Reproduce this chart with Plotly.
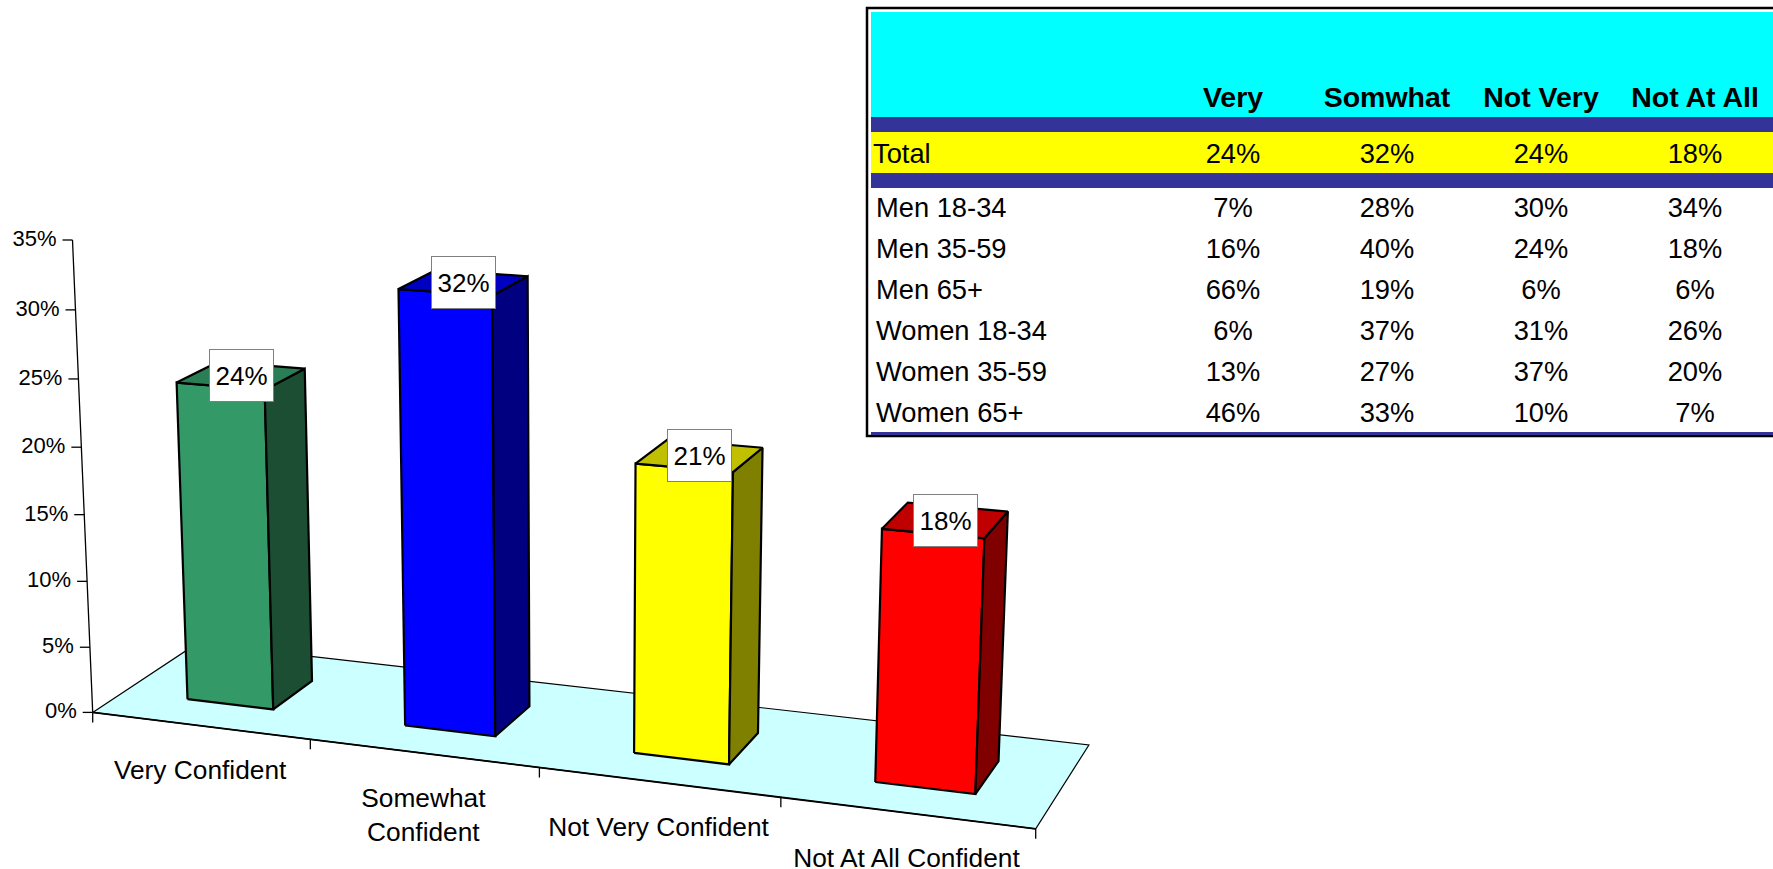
import numpy as np
import plotly.graph_objects as go

# Bar chart data
categories = ["Very Confident", "Somewhat<br>Confident", "Not Very Confident", "Not At All Confident"]
values = [24, 32, 21, 18]
value_labels = ["24%", "32%", "21%", "18%"]
value_ticks = [0, 5, 10, 15, 20, 25, 30, 35]
tick_labels = ["0%", "5%", "10%", "15%", "20%", "25%", "30%", "35%"]

# Crosstab data
table_headers = ["Very", "Somwhat", "Not Very", "Not At All"]
total_label = "Total"
total_row = ["24%", "32%", "24%", "18%"]
row_labels = ["Men 18-34", "Men 35-59", "Men 65+", "Women 18-34", "Women 35-59", "Women 65+"]
very_col = ["7%", "16%", "66%", "6%", "13%", "46%"]
somewhat_col = ["28%", "40%", "19%", "37%", "27%", "33%"]
not_very_col = ["30%", "24%", "6%", "31%", "37%", "10%"]
not_at_all_col = ["34%", "18%", "6%", "26%", "20%", "7%"]

# Face colours: front, top, side
front_colors = ["#339966", "#0000FF", "#FFFF00", "#FF0000"]
top_colors = ["#2A7D54", "#0000C0", "#C0C000", "#C00000"]
side_colors = ["#1C4E34", "#000080", "#808000", "#800000"]

FONT = "Liberation Sans, Arial, sans-serif"
W, H = 1773, 869

# Perspective camera: floor corners in page space for (category, depth) = (0,0),(4,0),(4,1),(0,1)
FLOOR_SRC = [(0, 0), (4, 0), (4, 1), (0, 1)]
FLOOR_DST = [(92.7, 712.4), (1035.7, 828.8), (1088.9, 745.0), (197.0, 643.4)]
AXIS_TOP = (72.5, 240.0)
VANISH_X = 577.0


def floor_homography(src, dst):
    a, b = [], []
    for (u, v), (x, y) in zip(src, dst):
        a.append([u, v, 1, 0, 0, 0, -u * x, -v * x])
        a.append([0, 0, 0, u, v, 1, -u * y, -v * y])
        b += [x, y]
    return np.append(np.linalg.solve(np.array(a, float), np.array(b, float)), 1).reshape(3, 3)


HOM = floor_homography(FLOOR_SRC, FLOOR_DST)
fx, fy = FLOOR_DST[0]
vanish_y = fy + (VANISH_X - fx) * (fy - AXIS_TOP[1]) / (fx - AXIS_TOP[0])
t_top = (AXIS_TOP[1] - fy) / (vanish_y - fy)
rise = (t_top / (1 - t_top) / value_ticks[-1]) * np.array([VANISH_X, vanish_y, 1.0])


def project(u, v, w=0.0):
    p = HOM @ np.array([u, v, 1.0]) + w * rise
    return p[0] / p[2], p[1] / p[2]


def path(points):
    xs, ys = zip(*[project(*p) for p in points])
    return list(xs), list(ys)


fig = go.Figure()


def polygon(points, fill, line_color="black", line_width=2.2):
    xs, ys = path(points + points[:1])
    fig.add_trace(go.Scatter(x=xs, y=ys, mode="lines", fill="toself", fillcolor=fill,
                             line=dict(color=line_color, width=line_width, shape="linear"),
                             hoverinfo="skip", showlegend=False))


def segment(points, width=1.3):
    xs, ys = points
    fig.add_trace(go.Scatter(x=xs, y=ys, mode="lines", line=dict(color="black", width=width),
                             hoverinfo="skip", showlegend=False))


def text_trace(xs, ys, labels, size, position, bold=False):
    fig.add_trace(go.Scatter(x=xs, y=ys, mode="text", text=labels, textposition=position,
                             textfont=dict(family=FONT, size=size, color="black",
                                           weight=700 if bold else 400),
                             hoverinfo="skip", showlegend=False, cliponaxis=False))


# Floor
polygon([(0, 0), (4, 0), (4, 1), (0, 1)], "#CCFFFF", line_width=1.2)
segment(path([(0, 0), (4, 0)]), 1.8)

# Value axis with ticks and labels
segment(path([(0, 0), (0, 0, value_ticks[-1])]))
tick_xs, tick_ys = [], []
for tick in value_ticks:
    x, y = project(0, 0, tick)
    segment(([x - 10, x], [y, y]))
    tick_xs.append(x - 16)
    tick_ys.append(y + 0.5)
text_trace(tick_xs, tick_ys, tick_labels, 22, "middle left")

# Category ticks and labels
for i in range(len(categories) + 1):
    x, y = project(i, 0)
    segment(([x, x], [y, y + 10]))
label_xs, label_ys = [], []
for i in range(len(categories)):
    x, y = project(i + 0.5, 0)
    label_xs.append(x)
    label_ys.append(y + 34)
text_trace(label_xs, label_ys, categories, 26.3, "bottom center")

# Bars
BAR_CENTER = 0.50
BAR_HALF = 0.2
DEPTH_LO, DEPTH_HI = 0.29, 0.69
annotations = []
for i, val in enumerate(values):
    u0, u1 = i + BAR_CENTER - BAR_HALF, i + BAR_CENTER + BAR_HALF
    polygon([(u0, DEPTH_LO, 0), (u1, DEPTH_LO, 0), (u1, DEPTH_LO, val), (u0, DEPTH_LO, val)], front_colors[i])
    polygon([(u1, DEPTH_LO, 0), (u1, DEPTH_HI, 0), (u1, DEPTH_HI, val), (u1, DEPTH_LO, val)], side_colors[i])
    polygon([(u0, DEPTH_LO, val), (u1, DEPTH_LO, val), (u1, DEPTH_HI, val), (u0, DEPTH_HI, val)], top_colors[i])
    cx, cy = project(i + BAR_CENTER, (DEPTH_LO + DEPTH_HI) / 2, val)
    annotations.append(dict(x=cx, y=cy, xref="x", yref="y", text=value_labels[i], showarrow=False,
                            width=63, height=51, bgcolor="white", bordercolor="#7F7F7F", borderwidth=1,
                            borderpad=0, align="center", valign="middle",
                            font=dict(family=FONT, size=26, color="black")))

# Crosstab panel
bands = [
    (12, 117, "#00FFFF"),
    (117, 132, "#333399"),
    (132, 173, "#FFFF00"),
    (173, 188, "#333399"),
    (432, 435, "#333399"),
]
shapes = [dict(type="rect", xref="x", yref="y", x0=867, x1=1790, y0=8, y1=436,
               fillcolor="white", line=dict(color="black", width=2.5), layer="below")]
for y0, y1, color in bands:
    shapes.append(dict(type="rect", xref="x", yref="y", x0=871, x1=1790, y0=y0, y1=y1,
                       fillcolor=color, line=dict(width=0), layer="below"))

col_xs = [1233, 1387, 1541, 1695]
LABEL_X = 876
TOTAL_X = 873
HEADER_Y, TOTAL_Y, FIRST_ROW_Y, ROW_STEP = 100, 156, 210, 40.95
row_ys = [FIRST_ROW_Y + ROW_STEP * r for r in range(len(row_labels))]

text_trace(col_xs, [HEADER_Y] * 4, table_headers, 28.5, "middle center", bold=True)
text_trace([TOTAL_X], [TOTAL_Y], [total_label], 27.3, "middle right")
text_trace(col_xs, [TOTAL_Y] * 4, total_row, 27.3, "middle center")
text_trace([LABEL_X] * len(row_labels), row_ys, row_labels, 27.3, "middle right")
for cx, col in zip(col_xs, [very_col, somewhat_col, not_very_col, not_at_all_col]):
    text_trace([cx] * len(col), row_ys, col, 27.3, "middle center")

fig.update_layout(
    width=W, height=H, margin=dict(l=0, r=0, t=0, b=0),
    paper_bgcolor="white", plot_bgcolor="white", showlegend=False,
    xaxis=dict(range=[0, W], visible=False, fixedrange=True),
    yaxis=dict(range=[H, 0], visible=False, fixedrange=True),
    shapes=shapes, annotations=annotations,
)
fig.write_html("out.html", config=dict(displayModeBar=False))
